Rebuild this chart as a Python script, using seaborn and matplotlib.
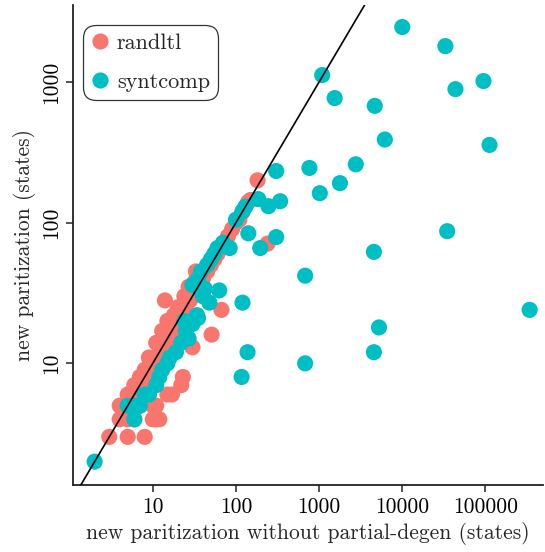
import numpy as np
import pandas as pd
import matplotlib
matplotlib.use("Agg")
import matplotlib.pyplot as plt
import matplotlib.ticker as mticker
import seaborn as sns

# randltl (x = without partial-degen, y = new paritization)
randltl_x = [3, 5, 8, 4, 5, 6, 10, 11, 12, 4, 5, 6, 7, 10, 11, 5, 6, 7, 15, 17,
             6, 7, 8, 22, 7, 8, 9, 23, 8, 9, 10, 11, 9, 11, 12, 14, 30, 13, 14, 16,
             51, 17, 17, 19, 20, 22, 25, 67, 14, 28, 30, 35, 32, 40, 33, 45, 50, 55,
             60, 240, 70, 80, 90, 100, 110, 120, 140, 150, 182, 18, 26, 12,
             11, 13, 15, 20, 24, 27]
randltl_y = [3, 3, 3, 4, 4, 4, 4, 4, 4, 5, 5, 5, 5, 5, 5, 6, 6, 6, 6, 6,
             7, 7, 7, 7, 8, 8, 8, 8, 9, 9, 10, 10, 11, 11, 12, 12, 13, 13, 14, 15,
             16, 16, 18, 17, 20, 21, 24, 24, 28, 28, 30, 33, 38, 40, 45, 45, 50, 55,
             60, 71, 70, 80, 90, 100, 105, 120, 140, 145, 200, 22, 20, 9,
             14, 17, 20, 25, 30, 35]

# syntcomp
syntcomp_x = [2, 6, 5, 6, 7, 8, 9, 11, 12, 13, 15, 16, 19, 22, 27, 25, 30, 35, 24, 34,
              48, 63, 40, 42, 30, 35, 38, 45, 50, 55, 84, 60, 70, 196, 141, 305, 120, 117,
              138, 680, 680, 4560, 5250, 4560, 34700, 340000, 186, 246, 340, 130, 120, 100,
              305, 765, 1020, 1780, 2760, 6170, 112000, 4670, 1540, 1090, 43600, 94700,
              33000, 10000]
syntcomp_y = [2, 4, 5, 5, 5, 6, 6, 7, 8, 9, 10, 11, 12, 14, 15, 17, 19, 21, 20, 22,
              27, 33, 30, 34, 36, 40, 45, 50, 55, 60, 66, 66, 72, 66, 84, 79, 27, 8,
              12, 10, 42, 12, 18, 62, 87, 24, 147, 131, 142, 130, 120, 105,
              233, 245, 162, 191, 260, 390, 357, 677, 769, 1120, 890, 1016,
              1800, 2460]

groups = ["randltl", "syntcomp"]
colors = {"randltl": "#F8766D", "syntcomp": "#00BFC4"}

df = pd.DataFrame({
    "x": randltl_x + syntcomp_x,
    "y": randltl_y + syntcomp_y,
    "group": ["randltl"] * len(randltl_x) + ["syntcomp"] * len(syntcomp_x),
})

sns.set_theme(style="ticks")
plt.rcParams["font.family"] = ["cmr10", "DejaVu Serif"]
plt.rcParams["mathtext.fontset"] = "cm"
plt.rcParams["axes.formatter.use_mathtext"] = True

fig = plt.figure(figsize=(5.45, 5.52), dpi=100)
ax = fig.add_axes([0.134, 0.121, 0.862, 0.870])

sns.scatterplot(data=df, x="x", y="y", hue="group", hue_order=groups,
                palette=colors, s=135, linewidth=0, alpha=1, ax=ax, zorder=3)

ax.set_xscale("log")
ax.set_yscale("log")
ax.set_xlim(1.1, 490000)
ax.set_ylim(1.36, 3530)

diag = np.array([1.0, 10000.0])
ax.plot(diag, diag, color="black", linewidth=1.2, zorder=4)

fmt = mticker.FuncFormatter(lambda v, _: f"{int(round(v))}")
ax.xaxis.set_major_locator(mticker.FixedLocator([10, 100, 1000, 10000, 100000]))
ax.yaxis.set_major_locator(mticker.FixedLocator([10, 100, 1000]))
ax.xaxis.set_major_formatter(fmt)
ax.yaxis.set_major_formatter(fmt)
ax.xaxis.set_minor_locator(mticker.NullLocator())
ax.yaxis.set_minor_locator(mticker.NullLocator())
ax.tick_params(axis="both", direction="out", length=5, width=1.1, labelsize=15.5,
               colors="#222222", labelcolor="black")
plt.setp(ax.get_yticklabels(), rotation=90, va="center")

for side in ["top", "right"]:
    ax.spines[side].set_visible(False)
for side in ["left", "bottom"]:
    ax.spines[side].set_linewidth(1.3)
    ax.spines[side].set_color("#222222")

ax.set_xlabel("new paritization without partial-degen (states)", fontsize=15.5)
ax.set_ylabel("new paritization (states)", fontsize=15.5)

leg = ax.legend(title=None, loc="upper left", bbox_to_anchor=(0.021, 0.958),
                borderaxespad=0, fontsize=16, frameon=True, fancybox=True,
                edgecolor="black", markerscale=1.0, handletextpad=0.35,
                borderpad=0.38, labelspacing=0.85, handlelength=0.8)
leg.get_frame().set_linewidth(0.9)
leg.get_frame().set_boxstyle("round", pad=0, rounding_size=0.6)

fig.savefig("out.png", dpi=100)
